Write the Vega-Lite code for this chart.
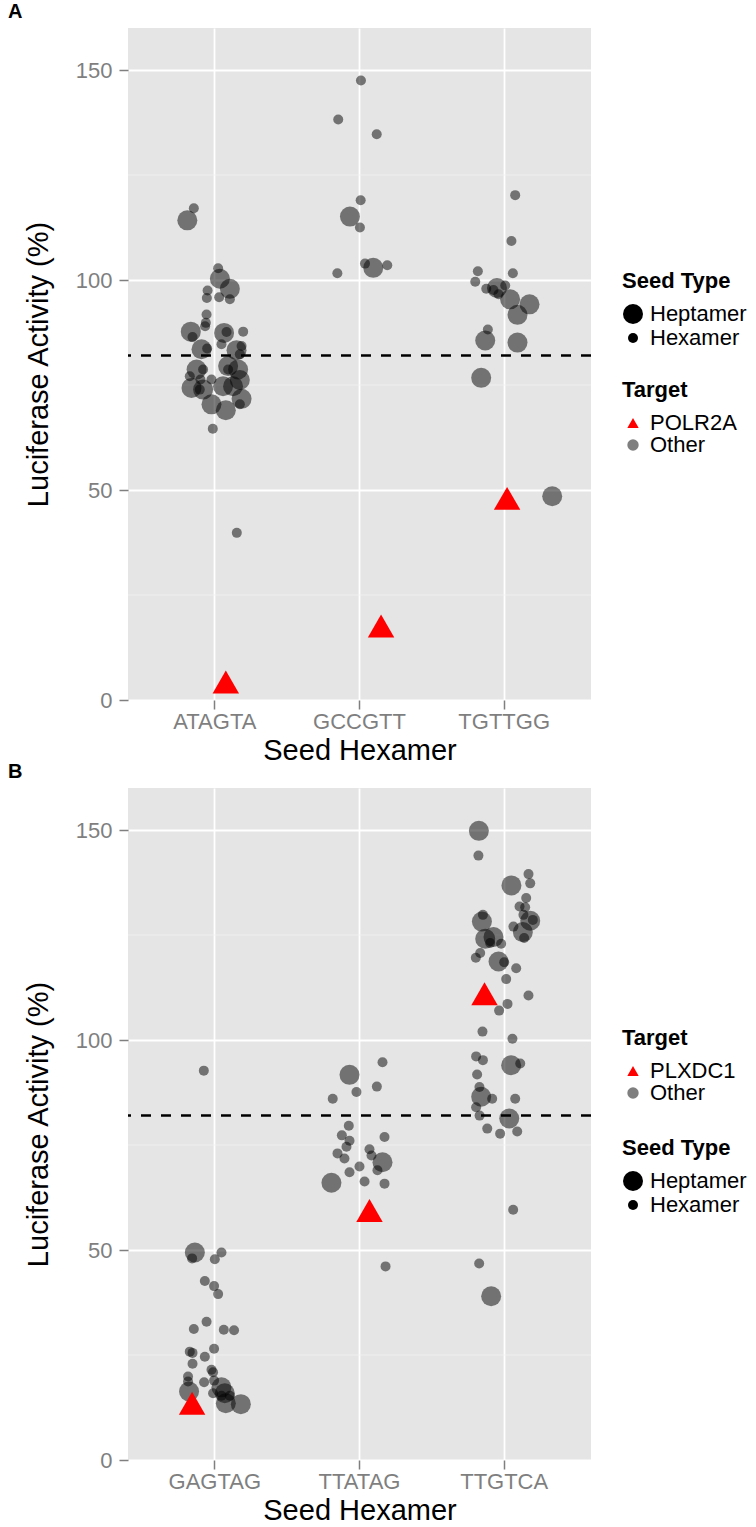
{
  "$schema": "https://vega.github.io/schema/vega-lite/v6.json",
  "padding": {"left": 8, "top": 2, "right": 5, "bottom": 5},
  "spacing": 88,
  "bounds": "flush",
  "config": {
    "font": "Liberation Sans",
    "view": {"fill": "#E5E5E5", "stroke": null},
    "axis": {
      "labelFont": "Liberation Sans", "labelFontSize": 22, "labelColor": "#7F7F7F",
      "titleFont": "Liberation Sans", "titleFontSize": 29, "titleFontWeight": "normal", "titleColor": "black",
      "tickColor": "#7F7F7F", "tickSize": 9, "tickWidth": 1.5, "domain": false,
      "grid": true, "gridColor": "white", "gridWidth": 1.8
    },
    "legend": {
      "titleFont": "Liberation Sans", "titleFontSize": 22, "titleFontWeight": "bold", "titleColor": "black",
      "labelFont": "Liberation Sans", "labelFontSize": 22, "labelColor": "black",
      "rowPadding": 0, "titlePadding": 10, "labelOffset": 6
    },
    "title": {"font": "Liberation Sans", "fontSize": 20, "fontWeight": "bold", "color": "black", "anchor": "start", "frame": "group"}
  },
  "datasets": {
    "panelA": [
      {"hexamer": "ATAGTA", "jitter": -0.19, "activity": 114.2, "seed": "Heptamer", "target": "Other"},
      {"hexamer": "ATAGTA", "jitter": -0.145, "activity": 117.1, "seed": "Hexamer", "target": "Other"},
      {"hexamer": "ATAGTA", "jitter": 0.023, "activity": 102.8, "seed": "Hexamer", "target": "Other"},
      {"hexamer": "ATAGTA", "jitter": 0.035, "activity": 100.3, "seed": "Heptamer", "target": "Other"},
      {"hexamer": "ATAGTA", "jitter": 0.104, "activity": 97.9, "seed": "Heptamer", "target": "Other"},
      {"hexamer": "ATAGTA", "jitter": -0.05, "activity": 97.5, "seed": "Hexamer", "target": "Other"},
      {"hexamer": "ATAGTA", "jitter": -0.055, "activity": 95.7, "seed": "Hexamer", "target": "Other"},
      {"hexamer": "ATAGTA", "jitter": 0.03, "activity": 95.9, "seed": "Hexamer", "target": "Other"},
      {"hexamer": "ATAGTA", "jitter": 0.104, "activity": 95.4, "seed": "Hexamer", "target": "Other"},
      {"hexamer": "ATAGTA", "jitter": -0.057, "activity": 91.8, "seed": "Hexamer", "target": "Other"},
      {"hexamer": "ATAGTA", "jitter": -0.062, "activity": 89.8, "seed": "Hexamer", "target": "Other"},
      {"hexamer": "ATAGTA", "jitter": -0.067, "activity": 89.0, "seed": "Hexamer", "target": "Other"},
      {"hexamer": "ATAGTA", "jitter": -0.166, "activity": 87.7, "seed": "Heptamer", "target": "Other"},
      {"hexamer": "ATAGTA", "jitter": -0.154, "activity": 86.4, "seed": "Hexamer", "target": "Other"},
      {"hexamer": "ATAGTA", "jitter": 0.064, "activity": 87.4, "seed": "Heptamer", "target": "Other"},
      {"hexamer": "ATAGTA", "jitter": 0.081, "activity": 87.6, "seed": "Hexamer", "target": "Other"},
      {"hexamer": "ATAGTA", "jitter": 0.196, "activity": 87.7, "seed": "Hexamer", "target": "Other"},
      {"hexamer": "ATAGTA", "jitter": -0.092, "activity": 83.5, "seed": "Heptamer", "target": "Other"},
      {"hexamer": "ATAGTA", "jitter": -0.053, "activity": 83.7, "seed": "Hexamer", "target": "Other"},
      {"hexamer": "ATAGTA", "jitter": 0.046, "activity": 84.7, "seed": "Hexamer", "target": "Other"},
      {"hexamer": "ATAGTA", "jitter": 0.15, "activity": 83.3, "seed": "Heptamer", "target": "Other"},
      {"hexamer": "ATAGTA", "jitter": 0.185, "activity": 84.3, "seed": "Hexamer", "target": "Other"},
      {"hexamer": "ATAGTA", "jitter": 0.173, "activity": 82.3, "seed": "Hexamer", "target": "Other"},
      {"hexamer": "ATAGTA", "jitter": -0.126, "activity": 78.7, "seed": "Heptamer", "target": "Other"},
      {"hexamer": "ATAGTA", "jitter": -0.081, "activity": 78.7, "seed": "Hexamer", "target": "Other"},
      {"hexamer": "ATAGTA", "jitter": 0.092, "activity": 79.5, "seed": "Heptamer", "target": "Other"},
      {"hexamer": "ATAGTA", "jitter": 0.092, "activity": 78.7, "seed": "Hexamer", "target": "Other"},
      {"hexamer": "ATAGTA", "jitter": 0.161, "activity": 78.7, "seed": "Heptamer", "target": "Other"},
      {"hexamer": "ATAGTA", "jitter": -0.173, "activity": 77.1, "seed": "Hexamer", "target": "Other"},
      {"hexamer": "ATAGTA", "jitter": -0.099, "activity": 76.3, "seed": "Hexamer", "target": "Other"},
      {"hexamer": "ATAGTA", "jitter": -0.023, "activity": 76.3, "seed": "Hexamer", "target": "Other"},
      {"hexamer": "ATAGTA", "jitter": 0.173, "activity": 76.2, "seed": "Heptamer", "target": "Other"},
      {"hexamer": "ATAGTA", "jitter": -0.161, "activity": 74.3, "seed": "Heptamer", "target": "Other"},
      {"hexamer": "ATAGTA", "jitter": -0.081, "activity": 73.9, "seed": "Heptamer", "target": "Other"},
      {"hexamer": "ATAGTA", "jitter": -0.104, "activity": 73.9, "seed": "Hexamer", "target": "Other"},
      {"hexamer": "ATAGTA", "jitter": 0.057, "activity": 74.7, "seed": "Heptamer", "target": "Other"},
      {"hexamer": "ATAGTA", "jitter": 0.126, "activity": 74.7, "seed": "Heptamer", "target": "Other"},
      {"hexamer": "ATAGTA", "jitter": 0.185, "activity": 71.7, "seed": "Heptamer", "target": "Other"},
      {"hexamer": "ATAGTA", "jitter": 0.173, "activity": 70.4, "seed": "Hexamer", "target": "Other"},
      {"hexamer": "ATAGTA", "jitter": -0.023, "activity": 70.4, "seed": "Heptamer", "target": "Other"},
      {"hexamer": "ATAGTA", "jitter": 0.076, "activity": 69.0, "seed": "Heptamer", "target": "Other"},
      {"hexamer": "ATAGTA", "jitter": -0.014, "activity": 64.6, "seed": "Hexamer", "target": "Other"},
      {"hexamer": "ATAGTA", "jitter": 0.152, "activity": 39.8, "seed": "Hexamer", "target": "Other"},
      {"hexamer": "ATAGTA", "jitter": 0.076, "activity": 4.3, "seed": "Hexamer", "target": "POLR2A"},
      {"hexamer": "GCCGTT", "jitter": 0.01, "activity": 147.5, "seed": "Hexamer", "target": "Other"},
      {"hexamer": "GCCGTT", "jitter": -0.147, "activity": 138.2, "seed": "Hexamer", "target": "Other"},
      {"hexamer": "GCCGTT", "jitter": 0.119, "activity": 134.7, "seed": "Hexamer", "target": "Other"},
      {"hexamer": "GCCGTT", "jitter": 0.008, "activity": 119.0, "seed": "Hexamer", "target": "Other"},
      {"hexamer": "GCCGTT", "jitter": -0.066, "activity": 115.1, "seed": "Heptamer", "target": "Other"},
      {"hexamer": "GCCGTT", "jitter": 0.003, "activity": 112.5, "seed": "Hexamer", "target": "Other"},
      {"hexamer": "GCCGTT", "jitter": 0.038, "activity": 103.9, "seed": "Hexamer", "target": "Other"},
      {"hexamer": "GCCGTT", "jitter": 0.095, "activity": 102.9, "seed": "Heptamer", "target": "Other"},
      {"hexamer": "GCCGTT", "jitter": 0.192, "activity": 103.5, "seed": "Hexamer", "target": "Other"},
      {"hexamer": "GCCGTT", "jitter": -0.153, "activity": 101.6, "seed": "Hexamer", "target": "Other"},
      {"hexamer": "GCCGTT", "jitter": 0.149, "activity": 17.6, "seed": "Hexamer", "target": "POLR2A"},
      {"hexamer": "TGTTGG", "jitter": 0.076, "activity": 120.2, "seed": "Hexamer", "target": "Other"},
      {"hexamer": "TGTTGG", "jitter": 0.05, "activity": 109.3, "seed": "Hexamer", "target": "Other"},
      {"hexamer": "TGTTGG", "jitter": 0.06, "activity": 101.6, "seed": "Hexamer", "target": "Other"},
      {"hexamer": "TGTTGG", "jitter": -0.182, "activity": 102.1, "seed": "Hexamer", "target": "Other"},
      {"hexamer": "TGTTGG", "jitter": -0.2, "activity": 99.6, "seed": "Hexamer", "target": "Other"},
      {"hexamer": "TGTTGG", "jitter": -0.124, "activity": 97.9, "seed": "Hexamer", "target": "Other"},
      {"hexamer": "TGTTGG", "jitter": -0.05, "activity": 98.1, "seed": "Heptamer", "target": "Other"},
      {"hexamer": "TGTTGG", "jitter": -0.074, "activity": 97.6, "seed": "Hexamer", "target": "Other"},
      {"hexamer": "TGTTGG", "jitter": -0.039, "activity": 96.6, "seed": "Hexamer", "target": "Other"},
      {"hexamer": "TGTTGG", "jitter": 0.007, "activity": 98.7, "seed": "Hexamer", "target": "Other"},
      {"hexamer": "TGTTGG", "jitter": 0.041, "activity": 95.4, "seed": "Heptamer", "target": "Other"},
      {"hexamer": "TGTTGG", "jitter": 0.175, "activity": 94.2, "seed": "Heptamer", "target": "Other"},
      {"hexamer": "TGTTGG", "jitter": 0.092, "activity": 91.7, "seed": "Heptamer", "target": "Other"},
      {"hexamer": "TGTTGG", "jitter": -0.113, "activity": 88.2, "seed": "Hexamer", "target": "Other"},
      {"hexamer": "TGTTGG", "jitter": -0.131, "activity": 85.6, "seed": "Heptamer", "target": "Other"},
      {"hexamer": "TGTTGG", "jitter": 0.092, "activity": 85.1, "seed": "Heptamer", "target": "Other"},
      {"hexamer": "TGTTGG", "jitter": -0.159, "activity": 76.7, "seed": "Heptamer", "target": "Other"},
      {"hexamer": "TGTTGG", "jitter": 0.332, "activity": 48.5, "seed": "Heptamer", "target": "Other"},
      {"hexamer": "TGTTGG", "jitter": 0.02, "activity": 48.0, "seed": "Hexamer", "target": "POLR2A"}
    ],
    "panelB": [
      {"hexamer": "GAGTAG", "jitter": -0.138, "activity": 49.4, "seed": "Heptamer", "target": "Other"},
      {"hexamer": "GAGTAG", "jitter": -0.157, "activity": 48.0, "seed": "Hexamer", "target": "Other"},
      {"hexamer": "GAGTAG", "jitter": 0.046, "activity": 49.4, "seed": "Hexamer", "target": "Other"},
      {"hexamer": "GAGTAG", "jitter": 0.0, "activity": 47.8, "seed": "Hexamer", "target": "Other"},
      {"hexamer": "GAGTAG", "jitter": -0.069, "activity": 42.6, "seed": "Hexamer", "target": "Other"},
      {"hexamer": "GAGTAG", "jitter": -0.005, "activity": 41.4, "seed": "Hexamer", "target": "Other"},
      {"hexamer": "GAGTAG", "jitter": 0.023, "activity": 39.5, "seed": "Hexamer", "target": "Other"},
      {"hexamer": "GAGTAG", "jitter": -0.057, "activity": 32.9, "seed": "Hexamer", "target": "Other"},
      {"hexamer": "GAGTAG", "jitter": -0.145, "activity": 31.2, "seed": "Hexamer", "target": "Other"},
      {"hexamer": "GAGTAG", "jitter": 0.062, "activity": 31.0, "seed": "Hexamer", "target": "Other"},
      {"hexamer": "GAGTAG", "jitter": 0.133, "activity": 30.9, "seed": "Hexamer", "target": "Other"},
      {"hexamer": "GAGTAG", "jitter": -0.173, "activity": 25.8, "seed": "Hexamer", "target": "Other"},
      {"hexamer": "GAGTAG", "jitter": -0.154, "activity": 25.5, "seed": "Hexamer", "target": "Other"},
      {"hexamer": "GAGTAG", "jitter": -0.005, "activity": 26.5, "seed": "Hexamer", "target": "Other"},
      {"hexamer": "GAGTAG", "jitter": -0.069, "activity": 24.6, "seed": "Hexamer", "target": "Other"},
      {"hexamer": "GAGTAG", "jitter": -0.154, "activity": 22.9, "seed": "Hexamer", "target": "Other"},
      {"hexamer": "GAGTAG", "jitter": -0.023, "activity": 21.5, "seed": "Hexamer", "target": "Other"},
      {"hexamer": "GAGTAG", "jitter": -0.012, "activity": 20.9, "seed": "Hexamer", "target": "Other"},
      {"hexamer": "GAGTAG", "jitter": -0.185, "activity": 19.9, "seed": "Hexamer", "target": "Other"},
      {"hexamer": "GAGTAG", "jitter": -0.185, "activity": 18.7, "seed": "Hexamer", "target": "Other"},
      {"hexamer": "GAGTAG", "jitter": -0.074, "activity": 18.5, "seed": "Hexamer", "target": "Other"},
      {"hexamer": "GAGTAG", "jitter": -0.005, "activity": 18.9, "seed": "Hexamer", "target": "Other"},
      {"hexamer": "GAGTAG", "jitter": -0.178, "activity": 16.3, "seed": "Heptamer", "target": "Other"},
      {"hexamer": "GAGTAG", "jitter": -0.012, "activity": 15.9, "seed": "Hexamer", "target": "Other"},
      {"hexamer": "GAGTAG", "jitter": 0.046, "activity": 17.3, "seed": "Heptamer", "target": "Other"},
      {"hexamer": "GAGTAG", "jitter": 0.069, "activity": 15.9, "seed": "Heptamer", "target": "Other"},
      {"hexamer": "GAGTAG", "jitter": 0.046, "activity": 15.3, "seed": "Hexamer", "target": "Other"},
      {"hexamer": "GAGTAG", "jitter": 0.104, "activity": 15.3, "seed": "Hexamer", "target": "Other"},
      {"hexamer": "GAGTAG", "jitter": 0.076, "activity": 13.5, "seed": "Heptamer", "target": "Other"},
      {"hexamer": "GAGTAG", "jitter": 0.18, "activity": 13.3, "seed": "Heptamer", "target": "Other"},
      {"hexamer": "GAGTAG", "jitter": -0.076, "activity": 92.7, "seed": "Hexamer", "target": "Other"},
      {"hexamer": "GAGTAG", "jitter": -0.157, "activity": 13.5, "seed": "Hexamer", "target": "PLXDC1"},
      {"hexamer": "TTATAG", "jitter": 0.159, "activity": 94.7, "seed": "Hexamer", "target": "Other"},
      {"hexamer": "TTATAG", "jitter": -0.069, "activity": 91.7, "seed": "Heptamer", "target": "Other"},
      {"hexamer": "TTATAG", "jitter": 0.12, "activity": 88.9, "seed": "Hexamer", "target": "Other"},
      {"hexamer": "TTATAG", "jitter": -0.021, "activity": 87.6, "seed": "Hexamer", "target": "Other"},
      {"hexamer": "TTATAG", "jitter": -0.185, "activity": 86.0, "seed": "Hexamer", "target": "Other"},
      {"hexamer": "TTATAG", "jitter": -0.074, "activity": 79.6, "seed": "Hexamer", "target": "Other"},
      {"hexamer": "TTATAG", "jitter": -0.122, "activity": 77.3, "seed": "Hexamer", "target": "Other"},
      {"hexamer": "TTATAG", "jitter": 0.173, "activity": 76.9, "seed": "Hexamer", "target": "Other"},
      {"hexamer": "TTATAG", "jitter": -0.069, "activity": 76.0, "seed": "Hexamer", "target": "Other"},
      {"hexamer": "TTATAG", "jitter": -0.09, "activity": 74.6, "seed": "Hexamer", "target": "Other"},
      {"hexamer": "TTATAG", "jitter": 0.069, "activity": 74.0, "seed": "Hexamer", "target": "Other"},
      {"hexamer": "TTATAG", "jitter": -0.152, "activity": 73.0, "seed": "Hexamer", "target": "Other"},
      {"hexamer": "TTATAG", "jitter": -0.104, "activity": 71.8, "seed": "Hexamer", "target": "Other"},
      {"hexamer": "TTATAG", "jitter": 0.083, "activity": 72.5, "seed": "Hexamer", "target": "Other"},
      {"hexamer": "TTATAG", "jitter": 0.0, "activity": 69.9, "seed": "Hexamer", "target": "Other"},
      {"hexamer": "TTATAG", "jitter": 0.159, "activity": 70.9, "seed": "Heptamer", "target": "Other"},
      {"hexamer": "TTATAG", "jitter": 0.124, "activity": 69.0, "seed": "Hexamer", "target": "Other"},
      {"hexamer": "TTATAG", "jitter": -0.194, "activity": 66.0, "seed": "Heptamer", "target": "Other"},
      {"hexamer": "TTATAG", "jitter": -0.069, "activity": 68.5, "seed": "Hexamer", "target": "Other"},
      {"hexamer": "TTATAG", "jitter": 0.035, "activity": 66.3, "seed": "Hexamer", "target": "Other"},
      {"hexamer": "TTATAG", "jitter": 0.173, "activity": 65.8, "seed": "Hexamer", "target": "Other"},
      {"hexamer": "TTATAG", "jitter": 0.18, "activity": 46.1, "seed": "Hexamer", "target": "Other"},
      {"hexamer": "TTATAG", "jitter": 0.069, "activity": 59.4, "seed": "Hexamer", "target": "PLXDC1"},
      {"hexamer": "TTGTCA", "jitter": -0.175, "activity": 149.8, "seed": "Heptamer", "target": "Other"},
      {"hexamer": "TTGTCA", "jitter": -0.178, "activity": 143.9, "seed": "Hexamer", "target": "Other"},
      {"hexamer": "TTGTCA", "jitter": 0.168, "activity": 139.5, "seed": "Hexamer", "target": "Other"},
      {"hexamer": "TTGTCA", "jitter": 0.18, "activity": 137.3, "seed": "Hexamer", "target": "Other"},
      {"hexamer": "TTGTCA", "jitter": 0.05, "activity": 136.8, "seed": "Heptamer", "target": "Other"},
      {"hexamer": "TTGTCA", "jitter": 0.152, "activity": 133.8, "seed": "Hexamer", "target": "Other"},
      {"hexamer": "TTGTCA", "jitter": 0.106, "activity": 131.8, "seed": "Hexamer", "target": "Other"},
      {"hexamer": "TTGTCA", "jitter": 0.145, "activity": 131.6, "seed": "Hexamer", "target": "Other"},
      {"hexamer": "TTGTCA", "jitter": -0.154, "activity": 128.2, "seed": "Heptamer", "target": "Other"},
      {"hexamer": "TTGTCA", "jitter": -0.147, "activity": 129.8, "seed": "Hexamer", "target": "Other"},
      {"hexamer": "TTGTCA", "jitter": 0.18, "activity": 128.4, "seed": "Heptamer", "target": "Other"},
      {"hexamer": "TTGTCA", "jitter": 0.198, "activity": 128.6, "seed": "Hexamer", "target": "Other"},
      {"hexamer": "TTGTCA", "jitter": 0.133, "activity": 129.8, "seed": "Hexamer", "target": "Other"},
      {"hexamer": "TTGTCA", "jitter": 0.064, "activity": 127.0, "seed": "Hexamer", "target": "Other"},
      {"hexamer": "TTGTCA", "jitter": 0.129, "activity": 125.7, "seed": "Heptamer", "target": "Other"},
      {"hexamer": "TTGTCA", "jitter": 0.138, "activity": 124.3, "seed": "Hexamer", "target": "Other"},
      {"hexamer": "TTGTCA", "jitter": -0.131, "activity": 124.1, "seed": "Heptamer", "target": "Other"},
      {"hexamer": "TTGTCA", "jitter": -0.074, "activity": 124.5, "seed": "Heptamer", "target": "Other"},
      {"hexamer": "TTGTCA", "jitter": -0.097, "activity": 123.1, "seed": "Hexamer", "target": "Other"},
      {"hexamer": "TTGTCA", "jitter": -0.021, "activity": 122.9, "seed": "Hexamer", "target": "Other"},
      {"hexamer": "TTGTCA", "jitter": -0.039, "activity": 118.7, "seed": "Heptamer", "target": "Other"},
      {"hexamer": "TTGTCA", "jitter": 0.0, "activity": 118.5, "seed": "Hexamer", "target": "Other"},
      {"hexamer": "TTGTCA", "jitter": -0.166, "activity": 120.7, "seed": "Hexamer", "target": "Other"},
      {"hexamer": "TTGTCA", "jitter": -0.196, "activity": 119.6, "seed": "Hexamer", "target": "Other"},
      {"hexamer": "TTGTCA", "jitter": 0.083, "activity": 117.1, "seed": "Hexamer", "target": "Other"},
      {"hexamer": "TTGTCA", "jitter": 0.014, "activity": 114.5, "seed": "Hexamer", "target": "Other"},
      {"hexamer": "TTGTCA", "jitter": 0.168, "activity": 110.6, "seed": "Hexamer", "target": "Other"},
      {"hexamer": "TTGTCA", "jitter": 0.023, "activity": 108.6, "seed": "Hexamer", "target": "Other"},
      {"hexamer": "TTGTCA", "jitter": -0.035, "activity": 107.0, "seed": "Hexamer", "target": "Other"},
      {"hexamer": "TTGTCA", "jitter": -0.15, "activity": 102.0, "seed": "Hexamer", "target": "Other"},
      {"hexamer": "TTGTCA", "jitter": 0.057, "activity": 100.3, "seed": "Hexamer", "target": "Other"},
      {"hexamer": "TTGTCA", "jitter": -0.194, "activity": 96.1, "seed": "Hexamer", "target": "Other"},
      {"hexamer": "TTGTCA", "jitter": -0.147, "activity": 95.2, "seed": "Hexamer", "target": "Other"},
      {"hexamer": "TTGTCA", "jitter": 0.048, "activity": 94.0, "seed": "Heptamer", "target": "Other"},
      {"hexamer": "TTGTCA", "jitter": 0.111, "activity": 94.4, "seed": "Hexamer", "target": "Other"},
      {"hexamer": "TTGTCA", "jitter": -0.187, "activity": 91.8, "seed": "Hexamer", "target": "Other"},
      {"hexamer": "TTGTCA", "jitter": -0.171, "activity": 88.8, "seed": "Hexamer", "target": "Other"},
      {"hexamer": "TTGTCA", "jitter": -0.159, "activity": 86.5, "seed": "Heptamer", "target": "Other"},
      {"hexamer": "TTGTCA", "jitter": 0.035, "activity": 81.3, "seed": "Heptamer", "target": "Other"},
      {"hexamer": "TTGTCA", "jitter": -0.194, "activity": 84.0, "seed": "Hexamer", "target": "Other"},
      {"hexamer": "TTGTCA", "jitter": -0.083, "activity": 86.0, "seed": "Hexamer", "target": "Other"},
      {"hexamer": "TTGTCA", "jitter": 0.076, "activity": 86.0, "seed": "Hexamer", "target": "Other"},
      {"hexamer": "TTGTCA", "jitter": -0.117, "activity": 78.9, "seed": "Hexamer", "target": "Other"},
      {"hexamer": "TTGTCA", "jitter": -0.028, "activity": 77.7, "seed": "Hexamer", "target": "Other"},
      {"hexamer": "TTGTCA", "jitter": 0.09, "activity": 78.2, "seed": "Hexamer", "target": "Other"},
      {"hexamer": "TTGTCA", "jitter": -0.17, "activity": 82.0, "seed": "Hexamer", "target": "Other"},
      {"hexamer": "TTGTCA", "jitter": 0.062, "activity": 59.6, "seed": "Hexamer", "target": "Other"},
      {"hexamer": "TTGTCA", "jitter": -0.173, "activity": 46.8, "seed": "Hexamer", "target": "Other"},
      {"hexamer": "TTGTCA", "jitter": -0.09, "activity": 39.0, "seed": "Heptamer", "target": "Other"},
      {"hexamer": "TTGTCA", "jitter": -0.136, "activity": 111.0, "seed": "Hexamer", "target": "PLXDC1"}
    ]
  },
  "resolve": {"scale": {"color": "independent", "shape": "independent", "size": "independent", "opacity": "independent"}, "legend": {"color": "independent", "shape": "independent", "size": "independent", "opacity": "independent"}},
  "vconcat": [
    {
      "title": {"text": "A", "dx": -120, "offset": 6},
      "width": 463,
      "height": 672,
      "layer": [
        {
          "data": {"values": [{"minor": 25}, {"minor": 75}, {"minor": 125}]},
          "mark": {"type": "rule", "color": "#F2F2F2", "strokeWidth": 0.8},
          "encoding": {"y": {"field": "minor", "type": "quantitative", "scale": {"domain": [0, 160], "nice": false, "zero": false}}}
        },
        {
          "data": {"values": [{"cutoff": 82}]},
          "mark": {"type": "rule", "color": "black", "strokeWidth": 2.5, "strokeDash": [10, 10]},
          "encoding": {"y": {"field": "cutoff", "type": "quantitative"}}
        },
        {
          "data": {"name": "panelA"},
          "transform": [{"filter": "datum.target === 'Other'"}],
          "mark": {"type": "point", "filled": true, "strokeWidth": 0},
          "encoding": {
            "x": {"field": "hexamer", "type": "nominal", "title": "Seed Hexamer",
                  "scale": {"paddingInner": 0, "paddingOuter": 0.1},
                  "axis": {"labelAngle": 0, "bandPosition": 0.5, "grid": true, "labelPadding": 2, "titlePadding": 4}},
            "xOffset": {"field": "jitter", "type": "quantitative", "scale": {"domain": [-0.5, 0.5], "zero": false, "nice": false}},
            "y": {"field": "activity", "type": "quantitative", "title": "Luciferase Activity (%)",
                  "axis": {"values": [0, 50, 100, 150], "labelPadding": 7, "titlePadding": 22}},
            "size": {"field": "seed", "type": "nominal", "title": "Seed Type",
                     "scale": {"domain": ["Heptamer", "Hexamer"], "range": [400, 100]},
                     "legend": {"orient": "none", "legendX": 494, "legendY": 243, "symbolOpacity": 1}},
            "color": {"field": "target", "type": "nominal", "title": "Target",
                      "scale": {"domain": ["POLR2A", "Other"], "range": ["#FF0000", "#000000"]},
                      "legend": {"orient": "none", "legendX": 494, "legendY": 352, "symbolSize": 130}},
            "shape": {"field": "target", "type": "nominal", "title": "Target",
                      "scale": {"domain": ["POLR2A", "Other"], "range": ["triangle-up", "circle"]},
                      "legend": {"orient": "none", "legendX": 494, "legendY": 352, "symbolSize": 130}},
            "opacity": {"field": "target", "type": "nominal", "title": "Target",
                      "scale": {"domain": ["POLR2A", "Other"], "range": [1, 0.5]},
                      "legend": {"orient": "none", "legendX": 494, "legendY": 352, "symbolSize": 130}}
          }
        },
        {
          "data": {"name": "panelA"},
          "transform": [{"filter": "datum.target !== 'Other'"}],
          "mark": {"type": "point", "filled": true, "size": 700, "strokeWidth": 0},
          "encoding": {
            "x": {"field": "hexamer", "type": "nominal"},
            "xOffset": {"field": "jitter", "type": "quantitative"},
            "y": {"field": "activity", "type": "quantitative"},
            "color": {"field": "target", "type": "nominal"},
            "shape": {"field": "target", "type": "nominal"},
            "opacity": {"field": "target", "type": "nominal"}
          }
        }
      ]
    },
    {
      "title": {"text": "B", "dx": -120, "offset": 6},
      "width": 463,
      "height": 672,
      "layer": [
        {
          "data": {"values": [{"minor": 25}, {"minor": 75}, {"minor": 125}]},
          "mark": {"type": "rule", "color": "#F2F2F2", "strokeWidth": 0.8},
          "encoding": {"y": {"field": "minor", "type": "quantitative", "scale": {"domain": [0, 160], "nice": false, "zero": false}}}
        },
        {
          "data": {"values": [{"cutoff": 82}]},
          "mark": {"type": "rule", "color": "black", "strokeWidth": 2.5, "strokeDash": [10, 10]},
          "encoding": {"y": {"field": "cutoff", "type": "quantitative"}}
        },
        {
          "data": {"name": "panelB"},
          "transform": [{"filter": "datum.target === 'Other'"}],
          "mark": {"type": "point", "filled": true, "strokeWidth": 0},
          "encoding": {
            "x": {"field": "hexamer", "type": "nominal", "title": "Seed Hexamer",
                  "scale": {"paddingInner": 0, "paddingOuter": 0.1},
                  "axis": {"labelAngle": 0, "bandPosition": 0.5, "grid": true, "labelPadding": 2, "titlePadding": 4}},
            "xOffset": {"field": "jitter", "type": "quantitative", "scale": {"domain": [-0.5, 0.5], "zero": false, "nice": false}},
            "y": {"field": "activity", "type": "quantitative", "title": "Luciferase Activity (%)",
                  "axis": {"values": [0, 50, 100, 150], "labelPadding": 7, "titlePadding": 22}},
            "size": {"field": "seed", "type": "nominal", "title": "Seed Type",
                     "scale": {"domain": ["Heptamer", "Hexamer"], "range": [400, 100]},
                     "legend": {"orient": "none", "legendX": 494, "legendY": 350, "symbolOpacity": 1}},
            "color": {"field": "target", "type": "nominal", "title": "Target",
                      "scale": {"domain": ["PLXDC1", "Other"], "range": ["#FF0000", "#000000"]},
                      "legend": {"orient": "none", "legendX": 494, "legendY": 240, "symbolSize": 130}},
            "shape": {"field": "target", "type": "nominal", "title": "Target",
                      "scale": {"domain": ["PLXDC1", "Other"], "range": ["triangle-up", "circle"]},
                      "legend": {"orient": "none", "legendX": 494, "legendY": 240, "symbolSize": 130}},
            "opacity": {"field": "target", "type": "nominal", "title": "Target",
                      "scale": {"domain": ["PLXDC1", "Other"], "range": [1, 0.5]},
                      "legend": {"orient": "none", "legendX": 494, "legendY": 240, "symbolSize": 130}}
          }
        },
        {
          "data": {"name": "panelB"},
          "transform": [{"filter": "datum.target !== 'Other'"}],
          "mark": {"type": "point", "filled": true, "size": 700, "strokeWidth": 0},
          "encoding": {
            "x": {"field": "hexamer", "type": "nominal"},
            "xOffset": {"field": "jitter", "type": "quantitative"},
            "y": {"field": "activity", "type": "quantitative"},
            "color": {"field": "target", "type": "nominal"},
            "shape": {"field": "target", "type": "nominal"},
            "opacity": {"field": "target", "type": "nominal"}
          }
        }
      ]
    }
  ]
}
